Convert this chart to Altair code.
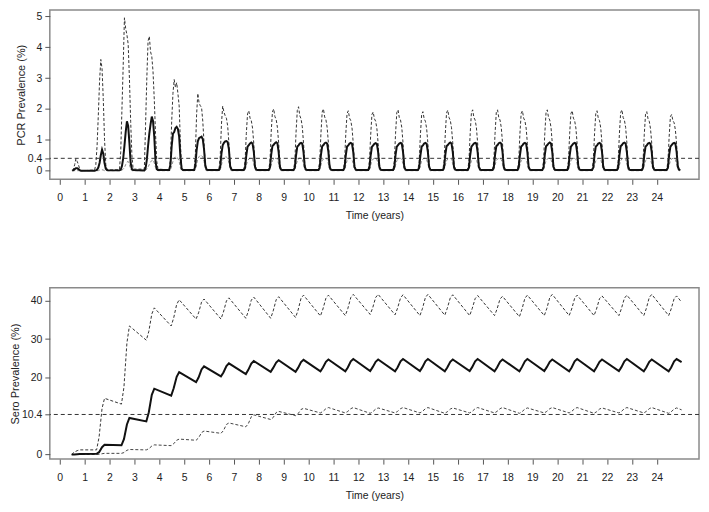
import altair as alt
import pandas as pd

# ---------------- PCR prevalence (top panel) ----------------
PCR_YEARS = list(range(25))
PCR_OFFSETS = [0.40, 0.45, 0.50, 0.55, 0.60, 0.65, 0.70, 0.75, 0.80, 0.85, 0.90, 0.95]

PCR_MEAN = [
    [0.00, 0.00, 0.00, 0.02, 0.05, 0.08, 0.08, 0.05, 0.02, 0.00, 0.00, 0.00],
    [0.00, 0.01, 0.03, 0.10, 0.25, 0.50, 0.68, 0.55, 0.25, 0.06, 0.02, 0.01],
    [0.01, 0.03, 0.15, 0.40, 0.80, 1.25, 1.60, 1.45, 0.90, 0.25, 0.05, 0.02],
    [0.01, 0.08, 0.35, 0.80, 1.20, 1.50, 1.75, 1.60, 1.10, 0.30, 0.05, 0.02],
    [0.02, 0.20, 0.80, 1.20, 1.25, 1.38, 1.42, 1.35, 1.10, 0.45, 0.06, 0.02],
    [0.02, 0.15, 0.65, 0.95, 1.05, 1.08, 1.10, 1.02, 0.70, 0.18, 0.04, 0.02],
    [0.02, 0.12, 0.55, 0.82, 0.90, 0.95, 0.96, 0.93, 0.70, 0.15, 0.04, 0.02],
    [0.02, 0.10, 0.50, 0.78, 0.83, 0.88, 0.91, 0.88, 0.62, 0.12, 0.03, 0.02],
    [0.02, 0.10, 0.52, 0.80, 0.84, 0.89, 0.92, 0.89, 0.60, 0.12, 0.03, 0.02],
    [0.02, 0.10, 0.50, 0.78, 0.82, 0.88, 0.90, 0.88, 0.60, 0.12, 0.03, 0.02],
    [0.02, 0.10, 0.51, 0.79, 0.83, 0.89, 0.91, 0.88, 0.61, 0.12, 0.03, 0.02],
    [0.02, 0.10, 0.50, 0.78, 0.82, 0.88, 0.90, 0.87, 0.60, 0.12, 0.03, 0.02],
    [0.02, 0.10, 0.50, 0.77, 0.82, 0.87, 0.89, 0.87, 0.60, 0.12, 0.03, 0.02],
    [0.02, 0.10, 0.51, 0.78, 0.83, 0.88, 0.90, 0.88, 0.61, 0.12, 0.03, 0.02],
    [0.02, 0.10, 0.50, 0.78, 0.82, 0.88, 0.90, 0.87, 0.60, 0.12, 0.03, 0.02],
    [0.02, 0.10, 0.51, 0.79, 0.83, 0.88, 0.91, 0.88, 0.61, 0.12, 0.03, 0.02],
    [0.02, 0.10, 0.50, 0.78, 0.83, 0.88, 0.90, 0.88, 0.60, 0.12, 0.03, 0.02],
    [0.02, 0.10, 0.51, 0.79, 0.83, 0.89, 0.91, 0.88, 0.61, 0.12, 0.03, 0.02],
    [0.02, 0.10, 0.50, 0.78, 0.82, 0.88, 0.90, 0.87, 0.60, 0.12, 0.03, 0.02],
    [0.02, 0.10, 0.51, 0.79, 0.83, 0.88, 0.91, 0.88, 0.61, 0.12, 0.03, 0.02],
    [0.02, 0.10, 0.50, 0.78, 0.83, 0.88, 0.90, 0.88, 0.60, 0.12, 0.03, 0.02],
    [0.02, 0.10, 0.51, 0.78, 0.82, 0.88, 0.90, 0.87, 0.61, 0.12, 0.03, 0.02],
    [0.02, 0.10, 0.50, 0.79, 0.83, 0.89, 0.91, 0.88, 0.60, 0.12, 0.03, 0.02],
    [0.02, 0.10, 0.50, 0.78, 0.82, 0.88, 0.90, 0.87, 0.60, 0.12, 0.03, 0.02],
    [0.02, 0.10, 0.51, 0.78, 0.83, 0.88, 0.90, 0.88, 0.61, 0.12, 0.03, 0.02],
]

PCR_UPPER = [
    [0.00, 0.00, 0.00, 0.05, 0.20, 0.39, 0.30, 0.20, 0.05, 0.00, 0.00, 0.00],
    [0.02, 0.20, 0.80, 1.80, 2.90, 3.60, 3.30, 2.30, 1.00, 0.20, 0.04, 0.02],
    [0.03, 0.60, 2.00, 3.40, 4.95, 4.60, 4.40, 4.10, 3.00, 1.60, 0.50, 0.05],
    [0.05, 1.50, 3.00, 4.20, 4.35, 3.85, 3.70, 3.20, 2.30, 1.20, 0.30, 0.05],
    [0.03, 0.40, 1.60, 2.50, 2.95, 2.70, 2.85, 2.50, 2.10, 0.90, 0.10, 0.03],
    [0.03, 0.50, 1.80, 2.50, 2.20, 2.10, 2.05, 1.60, 0.90, 0.20, 0.04, 0.03],
    [0.03, 0.45, 1.50, 2.09, 1.90, 1.78, 1.70, 1.45, 0.90, 0.20, 0.04, 0.03],
    [0.03, 0.30, 1.20, 1.85, 1.94, 1.70, 1.62, 1.38, 0.88, 0.20, 0.04, 0.03],
    [0.03, 0.30, 1.25, 1.90, 2.00, 1.75, 1.66, 1.40, 0.90, 0.20, 0.04, 0.03],
    [0.03, 0.30, 1.25, 1.95, 2.07, 1.78, 1.68, 1.42, 0.90, 0.20, 0.04, 0.03],
    [0.03, 0.30, 1.20, 1.90, 2.00, 1.74, 1.65, 1.40, 0.90, 0.20, 0.04, 0.03],
    [0.03, 0.30, 1.20, 1.85, 1.94, 1.70, 1.62, 1.38, 0.88, 0.20, 0.04, 0.03],
    [0.03, 0.30, 1.15, 1.82, 1.90, 1.68, 1.60, 1.36, 0.88, 0.20, 0.04, 0.03],
    [0.03, 0.30, 1.20, 1.88, 1.97, 1.72, 1.64, 1.40, 0.90, 0.20, 0.04, 0.03],
    [0.03, 0.30, 1.18, 1.83, 1.91, 1.68, 1.60, 1.36, 0.88, 0.20, 0.04, 0.03],
    [0.03, 0.30, 1.20, 1.87, 1.96, 1.72, 1.63, 1.39, 0.90, 0.20, 0.04, 0.03],
    [0.03, 0.30, 1.20, 1.88, 1.97, 1.72, 1.64, 1.40, 0.90, 0.20, 0.04, 0.03],
    [0.03, 0.30, 1.20, 1.88, 1.97, 1.72, 1.64, 1.40, 0.90, 0.20, 0.04, 0.03],
    [0.03, 0.30, 1.20, 1.85, 1.94, 1.70, 1.62, 1.38, 0.88, 0.20, 0.04, 0.03],
    [0.03, 0.30, 1.20, 1.88, 1.97, 1.72, 1.64, 1.40, 0.90, 0.20, 0.04, 0.03],
    [0.03, 0.30, 1.20, 1.85, 1.94, 1.70, 1.62, 1.38, 0.88, 0.20, 0.04, 0.03],
    [0.03, 0.30, 1.20, 1.85, 1.94, 1.70, 1.62, 1.38, 0.88, 0.20, 0.04, 0.03],
    [0.03, 0.30, 1.20, 1.88, 1.97, 1.72, 1.64, 1.40, 0.90, 0.20, 0.04, 0.03],
    [0.03, 0.30, 1.18, 1.83, 1.91, 1.68, 1.60, 1.36, 0.88, 0.20, 0.04, 0.03],
    [0.03, 0.30, 1.10, 1.75, 1.82, 1.62, 1.55, 1.32, 0.85, 0.20, 0.04, 0.03],
]

PCR_LOWER = [
    [0.00, 0.00, 0.00, 0.00, 0.00, 0.00, 0.00, 0.00, 0.00, 0.00, 0.00, 0.00],
    [0.00, 0.00, 0.00, 0.00, 0.02, 0.03, 0.03, 0.02, 0.00, 0.00, 0.00, 0.00],
    [0.00, 0.00, 0.02, 0.05, 0.10, 0.20, 0.28, 0.30, 0.20, 0.05, 0.00, 0.00],
    [0.00, 0.01, 0.05, 0.12, 0.20, 0.28, 0.33, 0.35, 0.25, 0.10, 0.02, 0.00],
    [0.00, 0.02, 0.15, 0.30, 0.40, 0.45, 0.43, 0.40, 0.30, 0.10, 0.01, 0.00],
    [0.00, 0.02, 0.20, 0.38, 0.45, 0.50, 0.48, 0.45, 0.30, 0.06, 0.00, 0.00],
    [0.00, 0.02, 0.18, 0.35, 0.42, 0.45, 0.44, 0.40, 0.25, 0.05, 0.00, 0.00],
    [0.00, 0.03, 0.18, 0.32, 0.38, 0.40, 0.40, 0.36, 0.22, 0.04, 0.00, 0.00],
    [0.00, 0.03, 0.18, 0.32, 0.38, 0.40, 0.40, 0.36, 0.22, 0.04, 0.00, 0.00],
    [0.00, 0.03, 0.18, 0.32, 0.38, 0.41, 0.40, 0.36, 0.22, 0.04, 0.00, 0.00],
    [0.00, 0.03, 0.18, 0.32, 0.38, 0.40, 0.40, 0.36, 0.22, 0.04, 0.00, 0.00],
    [0.00, 0.03, 0.18, 0.32, 0.38, 0.40, 0.40, 0.36, 0.22, 0.04, 0.00, 0.00],
    [0.00, 0.03, 0.18, 0.32, 0.38, 0.40, 0.39, 0.36, 0.22, 0.04, 0.00, 0.00],
    [0.00, 0.03, 0.18, 0.32, 0.38, 0.40, 0.40, 0.36, 0.22, 0.04, 0.00, 0.00],
    [0.00, 0.03, 0.18, 0.32, 0.38, 0.40, 0.40, 0.36, 0.22, 0.04, 0.00, 0.00],
    [0.00, 0.03, 0.18, 0.32, 0.38, 0.40, 0.40, 0.36, 0.22, 0.04, 0.00, 0.00],
    [0.00, 0.03, 0.18, 0.32, 0.38, 0.40, 0.40, 0.36, 0.22, 0.04, 0.00, 0.00],
    [0.00, 0.03, 0.18, 0.32, 0.38, 0.40, 0.40, 0.36, 0.22, 0.04, 0.00, 0.00],
    [0.00, 0.03, 0.18, 0.32, 0.38, 0.40, 0.40, 0.36, 0.22, 0.04, 0.00, 0.00],
    [0.00, 0.03, 0.18, 0.32, 0.38, 0.40, 0.40, 0.36, 0.22, 0.04, 0.00, 0.00],
    [0.00, 0.03, 0.18, 0.32, 0.38, 0.40, 0.40, 0.36, 0.22, 0.04, 0.00, 0.00],
    [0.00, 0.03, 0.18, 0.32, 0.38, 0.40, 0.40, 0.36, 0.22, 0.04, 0.00, 0.00],
    [0.00, 0.03, 0.18, 0.32, 0.38, 0.40, 0.40, 0.36, 0.22, 0.04, 0.00, 0.00],
    [0.00, 0.03, 0.18, 0.32, 0.38, 0.40, 0.40, 0.36, 0.22, 0.04, 0.00, 0.00],
    [0.00, 0.03, 0.18, 0.32, 0.38, 0.40, 0.40, 0.36, 0.22, 0.04, 0.00, 0.00],
]

# ---------------- Sero prevalence (bottom panel) ----------------
SERO_YEARS = list(range(25))
SERO_OFFSETS = [0.48, 0.58, 0.70, 0.80]
SERO_END_T = 25.0

SERO_MEAN = [
    [0.0, 0.0, 0.05, 0.1], [0.2, 0.6, 1.9, 2.5], [2.4, 4.0, 7.8, 9.5],
    [8.6, 11.0, 15.5, 17.1], [15.3, 17.2, 20.2, 21.4], [18.8, 20.0, 22.1, 22.9],
    [20.3, 21.3, 23.0, 23.7], [20.9, 22.0, 23.6, 24.3], [21.5, 22.5, 23.9, 24.5],
    [21.5, 22.5, 24.0, 24.6], [21.6, 22.6, 24.1, 24.7], [21.6, 22.6, 24.2, 24.8],
    [21.7, 22.7, 24.1, 24.7], [21.6, 22.6, 24.2, 24.8], [21.7, 22.7, 24.2, 24.8],
    [21.6, 22.6, 24.1, 24.7], [21.7, 22.7, 24.2, 24.8], [21.6, 22.6, 24.1, 24.7],
    [21.6, 22.7, 24.2, 24.8], [21.7, 22.7, 24.1, 24.7], [21.6, 22.6, 24.2, 24.8],
    [21.6, 22.7, 24.1, 24.7], [21.7, 22.7, 24.2, 24.8], [21.6, 22.6, 24.1, 24.7],
    [21.6, 22.6, 24.2, 24.8],
]
SERO_MEAN_END = 24.0

SERO_UPPER = [
    [0.0, 0.6, 1.0, 1.2], [1.2, 4.5, 12.0, 14.6], [13.1, 17.5, 29.0, 33.4],
    [29.7, 32.0, 36.5, 38.1], [33.4, 35.5, 39.0, 40.2], [35.2, 36.8, 39.6, 40.4],
    [35.2, 37.0, 39.9, 40.7], [35.4, 37.2, 40.1, 40.9], [35.4, 37.3, 40.2, 41.0],
    [35.6, 37.5, 40.6, 41.4], [36.0, 37.8, 40.6, 41.4], [36.1, 37.9, 40.8, 41.6],
    [36.4, 38.1, 40.8, 41.6], [36.3, 38.0, 40.7, 41.5], [36.1, 37.9, 40.8, 41.6],
    [36.2, 38.0, 40.7, 41.5], [36.1, 37.9, 40.5, 41.3], [36.1, 37.8, 40.4, 41.1],
    [35.8, 37.7, 40.6, 41.4], [36.1, 37.9, 40.8, 41.6], [36.1, 37.8, 40.6, 41.4],
    [36.1, 37.8, 40.5, 41.2], [36.1, 37.9, 40.6, 41.4], [36.1, 37.9, 40.8, 41.6],
    [36.1, 37.8, 40.5, 41.2],
]
SERO_UPPER_END = 39.6

SERO_LOWER = [
    [0.0, 0.0, 0.0, 0.0], [0.0, 0.05, 0.2, 0.3], [0.3, 0.5, 1.1, 1.3],
    [1.2, 1.5, 2.2, 2.5], [2.3, 2.8, 3.7, 4.0], [3.7, 4.3, 5.7, 6.1],
    [5.5, 6.2, 7.8, 8.2], [7.2, 8.0, 9.8, 10.3], [9.1, 9.6, 10.9, 11.2],
    [10.1, 10.6, 11.7, 12.0], [10.8, 11.2, 11.9, 12.2], [10.8, 11.2, 11.9, 12.2],
    [10.7, 11.1, 11.8, 12.1], [10.8, 11.2, 11.9, 12.2], [10.8, 11.2, 11.9, 12.2],
    [10.7, 11.1, 11.8, 12.1], [10.8, 11.2, 11.9, 12.2], [10.8, 11.2, 11.9, 12.2],
    [10.7, 11.1, 11.8, 12.1], [10.8, 11.2, 11.9, 12.2], [10.8, 11.2, 11.9, 12.2],
    [10.7, 11.1, 11.8, 12.1], [10.8, 11.2, 11.9, 12.2], [10.8, 11.2, 11.9, 12.2],
    [10.7, 11.1, 11.8, 12.1],
]
SERO_LOWER_END = 11.6

X_TICKS = list(range(25))
PCR_Y_TICKS = [0, 0.4, 1, 2, 3, 4, 5]
SERO_Y_TICKS = [0, 10.4, 20, 30, 40]
PCR_THRESHOLD = 0.4
SERO_THRESHOLD = 10.4
START_T = 0.48


def build(years, offsets, rows, end_t=None, end_v=None):
    ts, vs = [], []
    for y, row in zip(years, rows):
        for o, v in zip(offsets, row):
            t = y + o
            if t >= START_T:
                ts.append(t)
                vs.append(v)
    if end_t is not None:
        ts.append(end_t)
        vs.append(end_v)
    return pd.DataFrame({"t": ts, "v": vs})


pcr_mean = build(PCR_YEARS, PCR_OFFSETS, PCR_MEAN)
pcr_up = build(PCR_YEARS, PCR_OFFSETS, PCR_UPPER)
pcr_lo = build(PCR_YEARS, PCR_OFFSETS, PCR_LOWER)
sero_mean = build(SERO_YEARS, SERO_OFFSETS, SERO_MEAN, SERO_END_T, SERO_MEAN_END)
sero_up = build(SERO_YEARS, SERO_OFFSETS, SERO_UPPER, SERO_END_T, SERO_UPPER_END)
sero_lo = build(SERO_YEARS, SERO_OFFSETS, SERO_LOWER, SERO_END_T, SERO_LOWER_END)

FONT = "Liberation Sans"
PLOT_W = 652
x_scale = alt.Scale(domain=[-0.4, 25.7], nice=False, zero=False)


def x_enc():
    return alt.X("t:Q", scale=x_scale, axis=alt.Axis(
        values=X_TICKS, title="Time (years)", grid=False, domain=False,
        tickColor="#555", tickSize=5, labelPadding=8, titlePadding=8,
        labelFontSize=10.5, titleFontSize=10.5, labelColor="#222", titleColor="#222",
        labelFont=FONT, titleFont=FONT, titleFontWeight="normal",
        labelOverlap=False, labelFlush=False))


def y_enc(title, ticks, domain):
    return alt.Y("v:Q", scale=alt.Scale(domain=domain, nice=False, zero=False),
                 axis=alt.Axis(values=ticks, title=title, labelExpr="datum.value + ''",
                               grid=False, domain=False, tickColor="#555", tickSize=5,
                               labelPadding=3, titlePadding=1, labelFontSize=10.5,
                               titleFontSize=11, labelColor="#222", titleColor="#222",
                               labelFont=FONT, titleFont=FONT,
                               titleFontWeight="normal", labelOverlap=False))


def panel(mean, up, lo, title, ticks, domain, thr, h, lo_color):
    yy = y_enc(title, ticks, domain)
    xx = x_enc()
    up_l = alt.Chart(up).mark_line(color="#333", strokeWidth=1, strokeDash=[3, 2], clip=True).encode(x=xx, y=yy)
    lo_l = alt.Chart(lo).mark_line(color=lo_color, strokeWidth=1, strokeDash=[3, 2], clip=True).encode(x=xx, y=yy)
    mean_l = alt.Chart(mean).mark_line(color="#111", strokeWidth=2, clip=True).encode(x=xx, y=yy)
    rule = alt.Chart(pd.DataFrame({"v": [thr]})).mark_rule(
        color="#333", strokeWidth=1, strokeDash=[4, 3]).encode(y=yy)
    return alt.layer(up_l, lo_l, mean_l, rule).properties(width=PLOT_W, height=h)


top = panel(pcr_mean, pcr_up, pcr_lo, "PCR Prevalence (%)", PCR_Y_TICKS,
            [-0.28, 5.2], PCR_THRESHOLD, 170, "#888")
bottom = panel(sero_mean, sero_up, sero_lo, "Sero Prevalence (%)", SERO_Y_TICKS,
               [-1.2, 43.3], SERO_THRESHOLD, 172, "#444")

chart = alt.vconcat(top, bottom, spacing=109, bounds="flush").properties(
    padding=0, background="white"
).configure_view(stroke="#8a8a8a", strokeWidth=1.5)

chart.save("out.html", embed_options={"renderer": "svg", "actions": False})
